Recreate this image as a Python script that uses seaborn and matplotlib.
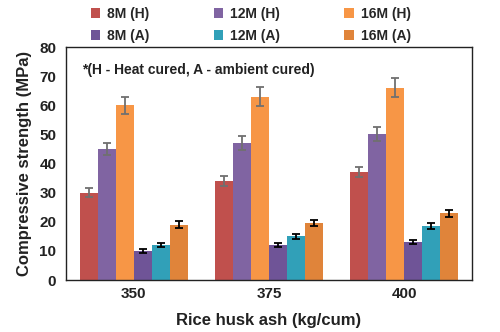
import matplotlib
matplotlib.use("Agg")
import matplotlib.pyplot as plt
import seaborn as sns
import pandas as pd
import numpy as np

# Compressive strength (MPa) by rice husk ash content and molarity / curing
ash = ["350", "375", "400"]
series = ["8M (H)", "12M (H)", "16M (H)", "8M (A)", "12M (A)", "16M (A)"]
strength = {
    "8M (H)":  [30, 34, 37],
    "12M (H)": [45, 47, 50],
    "16M (H)": [60, 63, 66],
    "8M (A)":  [10, 12, 13],
    "12M (A)": [12, 15, 18.5],
    "16M (A)": [19, 19.5, 23],
}
errors = {
    "8M (H)":  [1.6, 1.7, 1.8],
    "12M (H)": [2.2, 2.5, 2.4],
    "16M (H)": [3.0, 3.2, 3.2],
    "8M (A)":  [0.6, 0.7, 0.8],
    "12M (A)": [0.8, 0.9, 1.1],
    "16M (A)": [1.1, 1.1, 1.2],
}
colors = ["#C0504D", "#8064A2", "#F79646", "#6F5497", "#31A0B8", "#E0843A"]

rows = []
for s in series:
    for a, v in zip(ash, strength[s]):
        rows.append({"ash": a, "series": s, "strength": v})
df = pd.DataFrame(rows)

sns.set_theme(style="white")
plt.rcParams["font.family"] = ["Liberation Sans", "DejaVu Sans"]
plt.rcParams["font.weight"] = "bold"

fig = plt.figure(figsize=(5, 3.32), dpi=100)
ax = fig.add_axes([66 / 500, 1 - 280 / 332, 406 / 500, 233 / 332])

sns.barplot(data=df, x="ash", y="strength", hue="series", order=ash,
            hue_order=series, palette=colors, width=0.8, errorbar=None,
            saturation=1, linewidth=0, ax=ax)

# error bars placed at each drawn bar
for s, cont in zip(series, ax.containers):
    ecol = "#707070" if "(H)" in s else "black"
    for bar, e in zip(cont, errors[s]):
        xc = bar.get_x() + bar.get_width() / 2
        ax.errorbar(xc, bar.get_height(), yerr=e, fmt="none", ecolor=ecol,
                    elinewidth=1.3, capsize=3, capthick=1.3, zorder=5)

ax.set_ylim(0, 80)
ax.set_yticks(range(0, 81, 10))
ax.set_xlim(-0.5, 2.5)
ax.tick_params(axis="both", length=0, labelsize=11, colors="#222222")
ax.tick_params(axis="y", pad=7)
ax.tick_params(axis="x", pad=5)
for lab in ax.get_xticklabels() + ax.get_yticklabels():
    lab.set_fontweight("bold")
for sp in ax.spines.values():
    sp.set_color("#222222")
    sp.set_linewidth(1.0)

ax.set_xlabel("Rice husk ash (kg/cum)", fontsize=12, fontweight="bold",
              color="#222222", labelpad=9)
ax.set_ylabel("Compressive strength (MPa)", fontsize=12, fontweight="bold",
              color="#222222", labelpad=5)

ax.text(0.04, 0.90, "*(H - Heat cured, A - ambient cured)", transform=ax.transAxes,
        fontsize=10, fontweight="bold", color="#222222", va="center")

# legend above the plot: 3 columns, heat cured on first row
handles, labels = ax.get_legend_handles_labels()
hmap = dict(zip(labels, handles))
order = ["8M (H)", "8M (A)", "12M (H)", "12M (A)", "16M (H)", "16M (A)"]
ax.legend([hmap[k] for k in order], order, ncol=3, loc="center",
          bbox_to_anchor=(0.455, 1.095), frameon=False,
          prop={"weight": "bold", "size": 10}, handlelength=0.7,
          handleheight=0.7, columnspacing=4.6, handletextpad=0.5,
          labelspacing=0.6, borderpad=0)

fig.savefig("out.png", dpi=100)
